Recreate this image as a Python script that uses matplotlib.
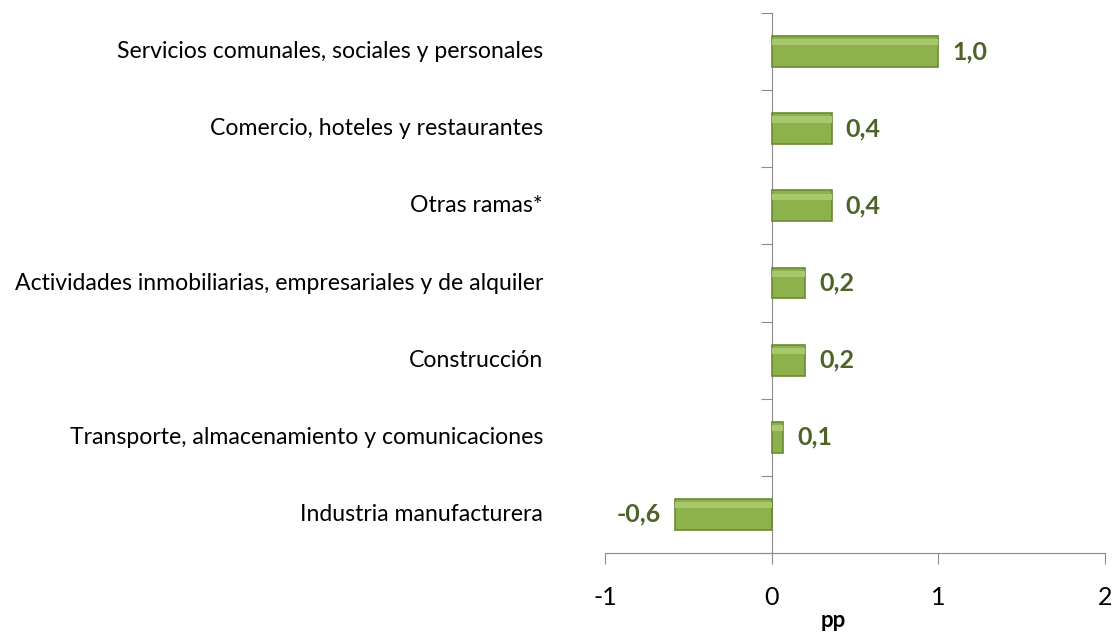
import matplotlib
matplotlib.use("Agg")
import matplotlib.pyplot as plt
import matplotlib.transforms as mtransforms
import numpy as np

plt.rcParams["font.family"] = ["Liberation Sans Narrow", "Lato", "DejaVu Sans"]

categorias = ["Servicios comunales, sociales y personales",
              "Comercio, hoteles y restaurantes",
              "Otras ramas*",
              "Actividades inmobiliarias, empresariales y de alquiler",
              "Construcción",
              "Transporte, almacenamiento y comunicaciones",
              "Industria manufacturera"]
valores = [1.0, 0.36, 0.36, 0.2, 0.2, 0.07, -0.58]
etiquetas = ["1,0", "0,4", "0,4", "0,2", "0,2", "0,1", "-0,6"]
xticks = [-1, 0, 1, 2]

VERDE = "#8DB14B"
BORDE = "#6B8A33"
TEXTO = "#4F6228"
GRIS = "#8C8C8C"

fig = plt.figure(figsize=(11.15, 6.33), dpi=100)
ax = fig.add_axes([0.5426, 0.1264, 0.4484, 0.853])

n = len(categorias)
y = np.arange(n)[::-1]
ax.barh(y, valores, height=0.4, color=VERDE, edgecolor=BORDE, linewidth=1.2, zorder=3)
# soft highlight strip to mimic the bevel
ax.barh(y + 0.12, valores, height=0.08, color="#A9C86D", linewidth=0, zorder=4)

ax.set_xlim(-1, 2)
ax.set_ylim(-0.5, n - 0.5)
ax.set_xticks(xticks)
ax.set_xticklabels([str(v) for v in xticks], fontsize=18)
ax.tick_params(axis="x", direction="out", length=8, color=GRIS, pad=16)

# vertical axis at 0 with ticks at category boundaries
ax.spines["left"].set_position(("data", 0))
ax.spines["left"].set_color(GRIS)
ax.spines["bottom"].set_color(GRIS)
ax.spines["right"].set_visible(False)
ax.spines["top"].set_visible(False)
ax.set_yticks(np.arange(n + 1) - 0.5)
ax.set_yticklabels([])
ax.tick_params(axis="y", direction="out", length=8, color=GRIS)

# category labels at the low end of the axis
trans = mtransforms.offset_copy(ax.get_yaxis_transform(), fig=fig, x=-62, y=0, units="dots")
for yi, cat in zip(y, categorias):
    ax.text(0, yi, cat, transform=trans, ha="right", va="center", fontsize=16.6)

for yi, v, lab in zip(y, valores, etiquetas):
    off = 14 if v >= 0 else -14
    t = mtransforms.offset_copy(ax.transData, fig=fig, x=off, y=0, units="dots")
    ax.text(v, yi, lab, transform=t, ha="left" if v >= 0 else "right", va="center",
            fontsize=18, fontweight="bold", color=TEXTO)

ax.set_xlabel("pp", fontsize=16, fontweight="bold")
ax.xaxis.set_label_coords(0.456, -0.105)

fig.savefig("out.png", dpi=100, facecolor="w")
